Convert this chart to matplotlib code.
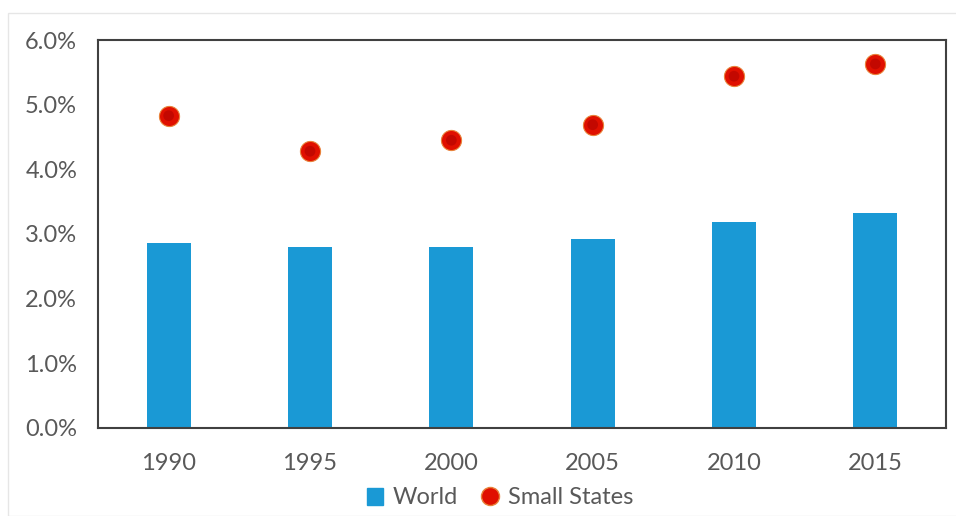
import matplotlib
matplotlib.use("Agg")
import matplotlib.pyplot as plt
from matplotlib.patches import Rectangle
from matplotlib.lines import Line2D

years = ["1990", "1995", "2000", "2005", "2010", "2015"]
world = [2.86, 2.80, 2.80, 2.93, 3.19, 3.33]
small_states = [4.83, 4.28, 4.45, 4.69, 5.44, 5.63]
yticks = [0, 1, 2, 3, 4, 5, 6]
ytick_labels = ["0.0%", "1.0%", "2.0%", "3.0%", "4.0%", "5.0%", "6.0%"]

plt.rcParams['font.family'] = ['Lato', 'DejaVu Sans']
txt = '#595959'

fig = plt.figure(figsize=(9.56, 5.16), dpi=100)
fig.patches.append(Rectangle((8/956, 0), 1, (516-13)/516, transform=fig.transFigure,
                             fill=False, edgecolor='#e6e6e6', linewidth=1.0))
ax = fig.add_axes([98/956, 88/516, 848/956, 388/516])

x = list(range(len(years)))
ax.bar(x, world, width=0.31, color='#1a99d5', zorder=2)
ax.scatter(x, small_states, s=210, color='#e01000', edgecolors='#e8823a',
           linewidths=0.8, zorder=3)
ax.scatter(x, small_states, s=60, color='#a00000', edgecolors='none', alpha=0.45,
           zorder=4, marker='o')

ax.set_xlim(-0.5, len(years) - 0.5)
ax.set_ylim(0, 6)
ax.set_yticks(yticks)
ax.set_yticklabels(ytick_labels)
ax.set_xticks(x)
ax.set_xticklabels(years)
ax.tick_params(axis='both', length=0, labelsize=17, labelcolor=txt)
ax.tick_params(axis='y', pad=15)
ax.tick_params(axis='x', pad=18)
for s in ax.spines.values():
    s.set_color('#404040')
    s.set_linewidth(1.5)

handles = [Rectangle((0, 0), 1, 1, color='#1a99d5'),
           Line2D([], [], marker='o', linestyle='none', markersize=13,
                  markerfacecolor='#e01000', markeredgecolor='#e8823a')]
fig.legend(handles, ['World', 'Small States'], loc='center',
           bbox_to_anchor=(500/956, 1 - 498/516), ncol=2, frameon=False,
           fontsize=17, labelcolor=txt, handlelength=0.7, handleheight=0.7,
           handletextpad=0.4, columnspacing=1.0)

fig.savefig('out.png', dpi=100)
